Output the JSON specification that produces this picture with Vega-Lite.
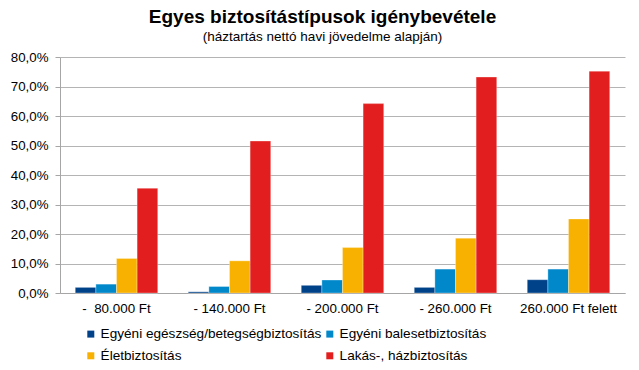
{
  "$schema": "https://vega.github.io/schema/vega-lite/v6.json",
  "width": 565,
  "height": 236,
  "autosize": {"type": "none"},
  "padding": {"left": 60, "top": 57, "right": 14, "bottom": 77},
  "background": "white",
  "title": {
    "text": "Egyes biztosítástípusok igénybevétele",
    "subtitle": "(háztartás nettó havi jövedelme alapján)",
    "anchor": "middle",
    "dx": -20,
    "offset": 7,
    "font": "Liberation Sans",
    "fontSize": 19,
    "fontWeight": "bold",
    "color": "#000000",
    "subtitleFont": "Liberation Sans",
    "subtitleFontSize": 13.5,
    "subtitleColor": "#000000",
    "subtitlePadding": 3
  },
  "config": {
    "locale": {"number": {"decimal": ",", "thousands": ".", "grouping": [3], "currency": ["", " Ft"]}},
    "view": {"stroke": null},
    "font": "Liberation Sans"
  },
  "data": {
    "values": [
      {"cat": "-\u00a0 80.000 Ft", "type": "Egyéni egészség/betegségbiztosítás", "v": 0.019},
      {"cat": "-\u00a0 80.000 Ft", "type": "Egyéni balesetbiztosítás", "v": 0.030},
      {"cat": "-\u00a0 80.000 Ft", "type": "Életbiztosítás", "v": 0.117},
      {"cat": "-\u00a0 80.000 Ft", "type": "Lakás-, házbiztosítás", "v": 0.355},
      {"cat": "- 140.000 Ft", "type": "Egyéni egészség/betegségbiztosítás", "v": 0.004},
      {"cat": "- 140.000 Ft", "type": "Egyéni balesetbiztosítás", "v": 0.022},
      {"cat": "- 140.000 Ft", "type": "Életbiztosítás", "v": 0.109},
      {"cat": "- 140.000 Ft", "type": "Lakás-, házbiztosítás", "v": 0.515},
      {"cat": "- 200.000 Ft", "type": "Egyéni egészség/betegségbiztosítás", "v": 0.026},
      {"cat": "- 200.000 Ft", "type": "Egyéni balesetbiztosítás", "v": 0.044},
      {"cat": "- 200.000 Ft", "type": "Életbiztosítás", "v": 0.154},
      {"cat": "- 200.000 Ft", "type": "Lakás-, házbiztosítás", "v": 0.642},
      {"cat": "- 260.000 Ft", "type": "Egyéni egészség/betegségbiztosítás", "v": 0.019},
      {"cat": "- 260.000 Ft", "type": "Egyéni balesetbiztosítás", "v": 0.081},
      {"cat": "- 260.000 Ft", "type": "Életbiztosítás", "v": 0.186},
      {"cat": "- 260.000 Ft", "type": "Lakás-, házbiztosítás", "v": 0.732},
      {"cat": "260.000 Ft felett", "type": "Egyéni egészség/betegségbiztosítás", "v": 0.045},
      {"cat": "260.000 Ft felett", "type": "Egyéni balesetbiztosítás", "v": 0.081},
      {"cat": "260.000 Ft felett", "type": "Életbiztosítás", "v": 0.251},
      {"cat": "260.000 Ft felett", "type": "Lakás-, házbiztosítás", "v": 0.752}
    ]
  },
  "mark": {"type": "bar", "stroke": "#ffffff", "strokeWidth": 0.5, "strokeOpacity": 0.6},
  "encoding": {
    "x": {
      "field": "cat",
      "type": "nominal",
      "sort": null,
      "title": null,
      "scale": {"paddingInner": 0.27, "paddingOuter": 0.135},
      "axis": {
        "labelAngle": 0,
        "labelFont": "Liberation Sans",
        "labelFontSize": 13.4,
        "labelColor": "#000000",
        "labelPadding": 8,
        "ticks": false,
        "domainColor": "#a6a6a6",
        "domainWidth": 1
      }
    },
    "xOffset": {
      "field": "type",
      "type": "nominal",
      "sort": ["Egyéni egészség/betegségbiztosítás", "Egyéni balesetbiztosítás", "Életbiztosítás", "Lakás-, házbiztosítás"],
      "scale": {"paddingInner": 0, "paddingOuter": 0}
    },
    "y": {
      "field": "v",
      "type": "quantitative",
      "title": null,
      "scale": {"domain": [0, 0.8], "nice": false},
      "axis": {
        "format": ".1%",
        "values": [0, 0.1, 0.2, 0.3, 0.4, 0.5, 0.6, 0.7, 0.8],
        "labelFont": "Liberation Sans",
        "labelFontSize": 13.3,
        "labelColor": "#000000",
        "labelPadding": 7,
        "tickSize": 5,
        "tickColor": "#a6a6a6",
        "domainColor": "#a6a6a6",
        "gridColor": "#b4b4b4",
        "gridWidth": 1
      }
    },
    "color": {
      "field": "type",
      "type": "nominal",
      "sort": ["Egyéni egészség/betegségbiztosítás", "Egyéni balesetbiztosítás", "Életbiztosítás", "Lakás-, házbiztosítás"],
      "scale": {
        "domain": ["Egyéni egészség/betegségbiztosítás", "Egyéni balesetbiztosítás", "Életbiztosítás", "Lakás-, házbiztosítás"],
        "range": ["#00428a", "#0088cb", "#f8b100", "#e31e1e"]
      },
      "legend": {
        "title": null,
        "orient": "none",
        "legendX": 24,
        "legendY": 270,
        "direction": "horizontal",
        "columns": 2,
        "symbolType": "square",
        "symbolSize": 49,
        "symbolStrokeWidth": 0,
        "labelFont": "Liberation Sans",
        "labelFontSize": 13.6,
        "labelColor": "#000000",
        "labelOffset": 3,
        "columnPadding": 1,
        "rowPadding": 7,
        "labelLimit": 300
      }
    }
  }
}
